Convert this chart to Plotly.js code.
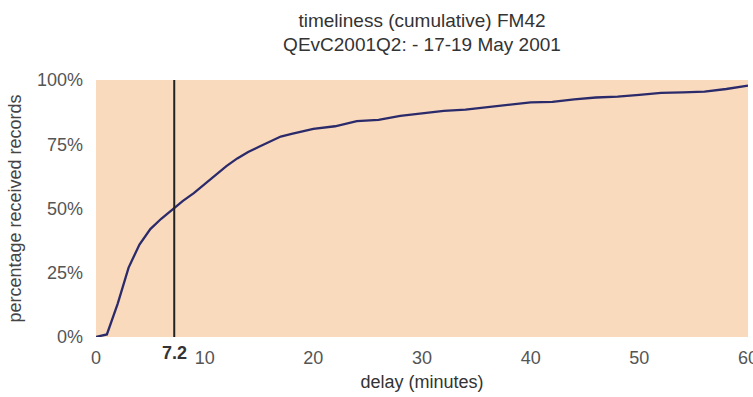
<!DOCTYPE html>
<html>
<head>
<meta charset="utf-8">
<script src="https://cdn.plot.ly/plotly-3.0.1.min.js"></script>
<style>html,body{margin:0;padding:0;background:#fff;}#chart{width:753px;height:397px;}</style>
</head>
<body>
<div id="chart"></div>
<script>
const delayMinutes = [0,1,2,3,4,5,6,7,8,9,10,11,12,13,14,15,16,17,18,19,20,22,24,26,28,30,32,34,36,38,40,42,44,46,48,50,52,54,56,58,60];
const percentReceived = [0,1,13,27,36,42,46,49.5,53,56,59.5,63,66.5,69.5,72,74,76,78,79,80,81,82,84,84.5,86,87,88,88.5,89.5,90.5,91.3,91.5,92.5,93.2,93.5,94.2,95,95.2,95.5,96.5,97.8];
const markerDelay = 7.2;
const markerLabel = "7.2";
const xTicks = [0,10,20,30,40,50,60];
const yTicks = [0,25,50,75,100];
const yTickText = ["0%","25%","50%","75%","100%"];

const fontFam = "Liberation Sans, Arial, Helvetica, sans-serif";

Plotly.newPlot("chart", [{
  x: delayMinutes,
  y: percentReceived,
  type: "scatter",
  mode: "lines",
  line: {color: "#2b2a6b", width: 2.3},
  hoverinfo: "skip"
}], {
  width: 753, height: 397,
  margin: {l: 96, r: 5, t: 80, b: 60},
  paper_bgcolor: "#ffffff",
  plot_bgcolor: "#f9dabd",
  showlegend: false,
  font: {family: fontFam, color: "#555"},
  title: {
    text: "timeliness (cumulative) FM42<br>QEvC2001Q2: - 17-19 May 2001",
    font: {family: fontFam, size: 19, color: "#333"},
    x: 0.5, xref: "paper", yref: "container", y: 0.933, yanchor: "middle"
  },
  xaxis: {
    range: [0, 60],
    tickvals: xTicks,
    showgrid: false, zeroline: false, showline: false,
    ticks: "",
    ticklabelstandoff: 8,
    ticklabeloverflow: "allow",
    tickfont: {size: 18, color: "#555"},
    title: {text: "delay (minutes)", font: {size: 18, color: "#333"}, standoff: 8}
  },
  yaxis: {
    range: [0, 100],
    tickvals: yTicks,
    ticktext: yTickText,
    showgrid: false, zeroline: false, showline: false,
    ticks: "",
    ticklabelstandoff: 12,
    tickfont: {size: 18, color: "#555"},
    title: {text: "percentage received records", font: {size: 18, color: "#444"}, standoff: 10}
  },
  shapes: [{
    type: "line", xref: "x", yref: "paper",
    x0: markerDelay, x1: markerDelay, y0: 0, y1: 1,
    line: {color: "#222", width: 2}
  }],
  annotations: [{
    x: markerDelay, y: 0, xref: "x", yref: "paper",
    yanchor: "top", yshift: -4,
    text: "<b>" + markerLabel + "</b>", showarrow: false,
    font: {family: fontFam, size: 18, color: "#333"}
  }]
}, {displayModeBar: false, staticPlot: true});
</script>
</body>
</html>
